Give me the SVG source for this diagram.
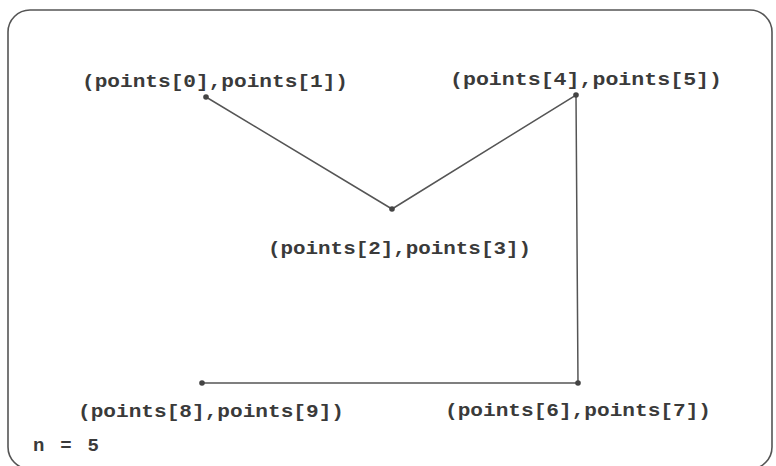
<svg xmlns="http://www.w3.org/2000/svg" width="776" height="466" viewBox="0 0 776 466">
<style>
.frame{fill:#fff;stroke:#555;stroke-width:1.6}
.edge{stroke:#555;stroke-width:1.5;fill:none}
.pt{fill:#444}
.lbl{font-family:"Liberation Mono","Courier New",monospace;font-weight:bold;font-size:19px;fill:#3a3a3a}
</style>
<rect class="frame" x="8" y="10" width="764" height="459" rx="22"/>
<g id="connectors">
<polyline class="edge" points="206,97 392,209 576,95 578,383 202,383"/>
</g>
<g id="p0"><circle class="pt" cx="206" cy="97" r="2.8"/><text class="lbl" x="82" y="87" textLength="266" lengthAdjust="spacingAndGlyphs">(points[0],points[1])</text></g>
<g id="p1"><circle class="pt" cx="392" cy="209" r="2.8"/><text class="lbl" x="268" y="254" textLength="263" lengthAdjust="spacingAndGlyphs">(points[2],points[3])</text></g>
<g id="p2"><circle class="pt" cx="576" cy="95" r="2.8"/><text class="lbl" x="450" y="85" textLength="272" lengthAdjust="spacingAndGlyphs">(points[4],points[5])</text></g>
<g id="p3"><circle class="pt" cx="578" cy="383" r="2.8"/><text class="lbl" x="445" y="416" textLength="266" lengthAdjust="spacingAndGlyphs">(points[6],points[7])</text></g>
<g id="p4"><circle class="pt" cx="202" cy="383" r="2.8"/><text class="lbl" x="78" y="417" textLength="266" lengthAdjust="spacingAndGlyphs">(points[8],points[9])</text></g>
<text class="lbl" x="33" y="451" textLength="66" lengthAdjust="spacing">n = 5</text>
</svg>
